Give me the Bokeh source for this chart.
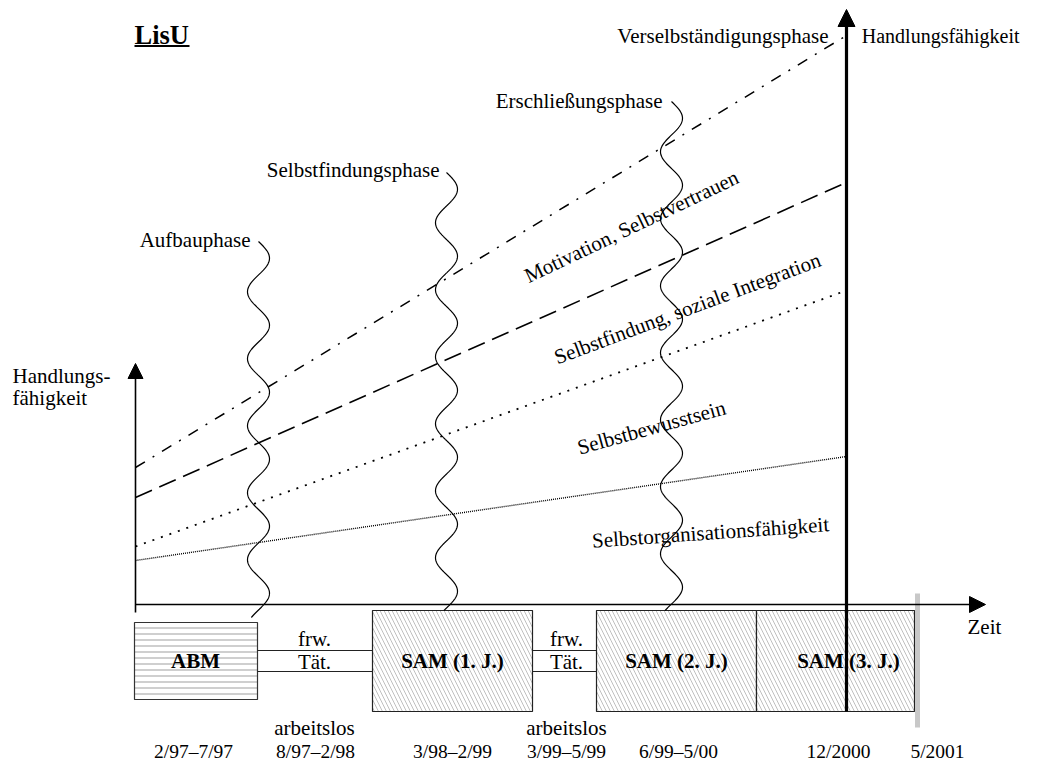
import numpy as np
from bokeh.plotting import figure
from bokeh.models import ColumnDataSource, Range1d, Arrow, NormalHead
from bokeh.core.properties import value
from bokeh.embed import file_html
from bokeh.resources import INLINE

FONT = "Liberation Serif"

# ---------------- data (schematic diagram coordinates) ----------------
title_text = "LisU"
y_axis_label = ["Handlungs-", "fähigkeit"]
right_axis_label = "Handlungsfähigkeit"
x_axis_label = "Zeit"

# phases and their wavy separators
phase_names = ["Aufbauphase", "Selbstfindungsphase", "Erschließungsphase", "Verselbständigungsphase"]
phase_label_right = [250, 439, 662, 828]
phase_label_mid = [239, 169, 100, 35]
wave_center = [258, 446, 671]
wave_top = [241, 172, 101]
wave_bottom = [617, 610, 610]

# development lines (value at start of period -> value at 12/2000)
trend_names = ["Motivation, Selbstvertrauen", "Selbstfindung, soziale Integration",
               "Selbstbewusstsein", "Selbstorganisationsfähigkeit"]
trend_start = [467, 497, 546, 560]
trend_end = [35, 182, 290, 456]
trend_label_x = [631, 687, 651, 710]
trend_label_y = [226, 308, 427, 532]
trend_label_angle = [25.5, 20.5, 15.5, 4.0]

# timeline
box_labels = ["ABM", "SAM (1. J.)", "SAM (2. J.)", "SAM (3. J.)"]
box_left = [134, 372, 596, 756]
box_right = [257, 532, 756, 914]
box_top = [622, 610, 610, 610]
box_bottom = [699, 711, 711, 711]
box_label_x = [195, 452, 676, 848]
gap_left = [257, 532]
gap_right = [372, 596]
gap_label_x = [314, 566]
date_labels = ["2/97–7/97", "8/97–2/98", "3/98–2/99", "3/99–5/99", "6/99–5/00", "12/2000", "5/2001"]
date_x = [193, 315, 452, 566, 678, 838, 937]

# axes geometry
origin_x, origin_y = 135, 604
y_axis_top = 363
x_axis_end = 985
now_x = 846          # 12/2000
now_top = 9
end_x = 917          # 5/2001

# ---------------- figure ----------------
W, H = 1023, 762
p = figure(width=W, height=H, output_backend="svg", toolbar_location=None,
           x_range=Range1d(0, W), y_range=Range1d(H, 0),
           min_border=0)
p.axis.visible = False
p.grid.visible = False
p.outline_line_color = None
p.background_fill_color = "white"
p.border_fill_color = "white"


def txt(x, y, t, size="21px", style="normal", align="center", angle=0.0):
    src = ColumnDataSource(dict(x=x, y=y, t=t, a=angle if isinstance(angle, list) else [angle] * len(x)))
    p.text(x="x", y="y", text="t", angle="a", angle_units="deg", source=src,
           text_font=value(FONT), text_font_size=value(size), text_font_style=style,
           text_align=align, text_baseline="middle", text_color="black")


# boxes
box_src = ColumnDataSource(dict(l=box_left[:1], r=box_right[:1], t=box_top[:1], b=box_bottom[:1]))
p.quad(left="l", right="r", top="t", bottom="b", source=box_src, fill_color="white",
       line_color="#333333", line_width=1.2, hatch_pattern="horizontal_line",
       hatch_color="#cfcfcf", hatch_scale=6, hatch_weight=2)
sam_src = ColumnDataSource(dict(l=box_left[1:], r=box_right[1:], t=box_top[1:], b=box_bottom[1:]))
p.quad(left="l", right="r", top="t", bottom="b", source=sam_src, fill_color="white",
       line_color="#222222", line_width=1.2, hatch_pattern="left_diagonal_line",
       hatch_color="#c0c0c0", hatch_scale=8, hatch_weight=1)

# connectors (frw. Tät.)
for gl, gr in zip(gap_left, gap_right):
    p.segment(x0=[gl, gl], y0=[650, 671], x1=[gr, gr], y1=[650, 671], line_color="#222222", line_width=1.2)

# 5/2001 grey marker
p.segment(x0=[end_x], y0=[593], x1=[end_x], y1=[727], line_color="#c8c8c8", line_width=5)

# trend lines
styles = [dict(line_dash="11 9 2 9", line_width=1.5),
          dict(line_dash="18 8", line_width=1.6),
          dict(line_dash="2 7", line_width=1.8),
          dict(line_dash="1 1", line_width=1.4)]
for ys, ye, st in zip(trend_start, trend_end, styles):
    p.line(x=[origin_x, now_x], y=[ys, ye], line_color="black", **st)

# wavy phase separators
P, A = 67.0, 11.0
for cx, yt, yb in zip(wave_center, wave_top, wave_bottom):
    yy = np.linspace(yt, yb, 500)
    xx = cx + A * np.sin(2 * np.pi * (yy - yt) / P)
    p.line(x=xx, y=yy, line_color="black", line_width=1.2)

# axes
p.segment(x0=[origin_x], y0=[612], x1=[origin_x], y1=[y_axis_top + 8], line_color="black", line_width=1.6)
p.add_layout(Arrow(end=NormalHead(size=15, fill_color="black", line_color="black", line_width=1),
                   x_start=origin_x, y_start=y_axis_top + 14, x_end=origin_x, y_end=y_axis_top,
                   line_color="black", line_width=1.6))
p.segment(x0=[origin_x], y0=[origin_y], x1=[x_axis_end - 8], y1=[origin_y], line_color="black", line_width=1.6)
p.add_layout(Arrow(end=NormalHead(size=16, fill_color="black", line_color="black", line_width=1),
                   x_start=x_axis_end - 14, y_start=origin_y, x_end=x_axis_end, y_end=origin_y,
                   line_color="black", line_width=1.6))
p.segment(x0=[now_x], y0=[711], x1=[now_x], y1=[now_top + 8], line_color="black", line_width=3.2)
p.add_layout(Arrow(end=NormalHead(size=17, fill_color="black", line_color="black", line_width=1),
                   x_start=now_x, y_start=now_top + 14, x_end=now_x, y_end=now_top,
                   line_color="black", line_width=3.2))

# texts
txt([134], [34], [title_text], size="26.5px", style="bold", align="left")
p.segment(x0=[134], y0=[45.5], x1=[189], y1=[45.5], line_color="black", line_width=2)
txt([12, 12], [375, 397], y_axis_label, align="left")
txt([1019], [35], [right_axis_label], size="20px", align="right")
txt([967], [626], [x_axis_label], align="left")
txt(phase_label_right, phase_label_mid, phase_names, align="right")
txt(trend_label_x, trend_label_y, trend_names, angle=trend_label_angle)
txt(box_label_x, [660] * 4, box_labels, style="bold")
txt(gap_label_x, [638, 638], ["frw.", "frw."])
txt(gap_label_x, [661, 661], ["Tät.", "Tät."])
txt(gap_label_x, [727, 727], ["arbeitslos", "arbeitslos"])
txt(date_x, [751] * len(date_x), date_labels, size="19.5px")

open("out.html", "w").write(file_html(p, INLINE))
